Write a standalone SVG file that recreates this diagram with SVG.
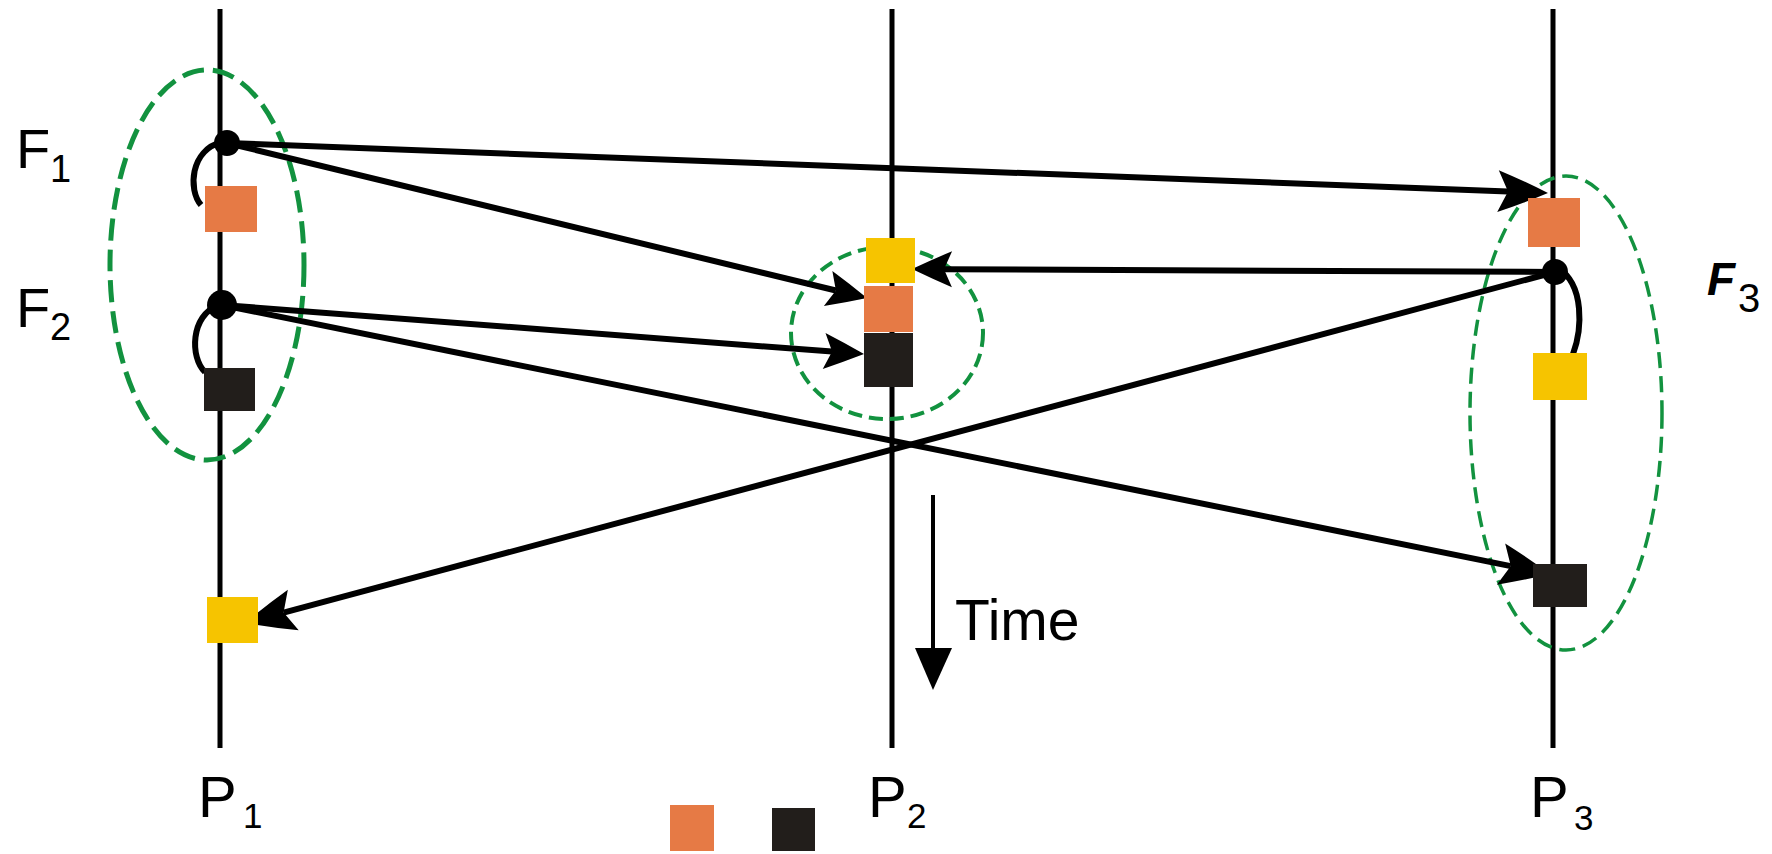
<svg xmlns="http://www.w3.org/2000/svg" width="1772" height="854" viewBox="0 0 1772 854">
<style>
.tl{stroke:#000;stroke-width:5;fill:none}
.cn{stroke:#000;stroke-width:6;fill:none}
.grp{fill:none;stroke:#12923f}
.or{fill:#e67a45}
.ye{fill:#f6c400}
.bk{fill:#221e1b}
.dot{fill:#000}
.lbl{font-family:"Liberation Sans",Arial,sans-serif;fill:#000}
</style>
<defs>
<marker id="big" markerUnits="userSpaceOnUse" orient="auto" refX="0" refY="0" overflow="visible" markerWidth="60" markerHeight="50">
<path d="M40,0 Q14,-12 -10,-21 L0,0 L-10,21 Q14,12 40,0 Z" fill="#000"/>
</marker>
<marker id="small" markerUnits="userSpaceOnUse" orient="auto" refX="0" refY="0" overflow="visible" markerWidth="50" markerHeight="40">
<path d="M32,0 Q11,-10 -8,-18 L0,0 L-8,18 Q11,10 32,0 Z" fill="#000"/>
</marker>
</defs>
<rect width="1772" height="854" fill="#fff"/>

<g id="timelines">
<line class="tl" x1="220" y1="9" x2="220" y2="748"/>
<line class="tl" x1="892" y1="9" x2="892" y2="748"/>
<line class="tl" x1="1553" y1="9" x2="1553" y2="748"/>
</g>

<g id="groups">
<ellipse class="grp" cx="207" cy="265" rx="97" ry="195" stroke-width="5" stroke-dasharray="22 9"/>
<ellipse class="grp" cx="887" cy="333" rx="96" ry="86" stroke-width="4" stroke-dasharray="14 7"/>
<ellipse class="grp" cx="1566" cy="413" rx="96" ry="237" stroke-width="3.5" stroke-dasharray="16 8"/>
</g>

<g id="connectors">
<line class="cn" x1="227" y1="143" x2="1508" y2="191.5" marker-end="url(#big)"/>
<line class="cn" x1="227" y1="143" x2="835.9" y2="290.5" marker-end="url(#small)"/>
<line class="cn" x1="222" y1="305" x2="832.1" y2="351.6" marker-end="url(#small)"/>
<line class="cn" x1="222" y1="305" x2="1510.8" y2="566.1" marker-end="url(#big)"/>
<line class="cn" x1="1555" y1="272" x2="944" y2="269.2" marker-end="url(#small)"/>
<line class="cn" x1="1555" y1="272" x2="283.6" y2="612.6" marker-end="url(#big)"/>
<path class="cn" stroke-width="4.5" d="M222,142 C190,150 188,190 201,205"/>
<path class="cn" stroke-width="4.5" d="M219,305 C190,315 190,358 205,372"/>
<path class="cn" stroke-width="4.5" d="M1558,268 C1585,285 1582,330 1573,354"/>
</g>

<g id="P1">
<circle class="dot" cx="227" cy="143" r="13"/>
<rect class="or" x="205" y="186" width="52" height="46"/>
<circle class="dot" cx="222" cy="305" r="15"/>
<rect class="bk" x="204" y="368" width="51" height="43"/>
<rect class="ye" x="207" y="597" width="51" height="46"/>
</g>

<g id="P2">
<rect class="ye" x="866" y="238" width="49" height="45"/>
<rect class="or" x="864" y="286" width="49" height="46"/>
<rect class="bk" x="864" y="333" width="49" height="54"/>
</g>

<g id="P3">
<rect class="or" x="1528" y="198" width="52" height="49"/>
<circle class="dot" cx="1555" cy="272" r="13"/>
<rect class="ye" x="1533" y="353" width="54" height="47"/>
<rect class="bk" x="1533" y="564" width="54" height="43"/>
</g>

<g id="legend">
<rect class="or" x="670" y="805" width="44" height="46"/>
<rect class="bk" x="772" y="808" width="43" height="43"/>
</g>

<g id="time">
<line stroke="#000" stroke-width="4" x1="933" y1="495" x2="933" y2="652"/>
<polygon points="933,690 915,648 952,648" fill="#000"/>
<text class="lbl" x="955" y="640" font-size="57">Time</text>
</g>

<g id="labels">
<text class="lbl" x="16" y="168" font-size="56">F<tspan x="50" y="182" font-size="38">1</tspan></text>
<text class="lbl" x="16" y="327" font-size="56">F<tspan x="50" y="340" font-size="38">2</tspan></text>
<text class="lbl" x="1707" y="295" font-size="46" font-weight="bold" font-style="italic">F<tspan x="1738" y="312" font-size="40" font-weight="normal" font-style="normal">3</tspan></text>
<text class="lbl" x="198" y="817" font-size="58">P<tspan x="243" y="828" font-size="35">1</tspan></text>
<text class="lbl" x="868" y="817" font-size="58">P<tspan x="907" y="828" font-size="35">2</tspan></text>
<text class="lbl" x="1530" y="817" font-size="58">P<tspan x="1574" y="830" font-size="35">3</tspan></text>
</g>
</svg>
